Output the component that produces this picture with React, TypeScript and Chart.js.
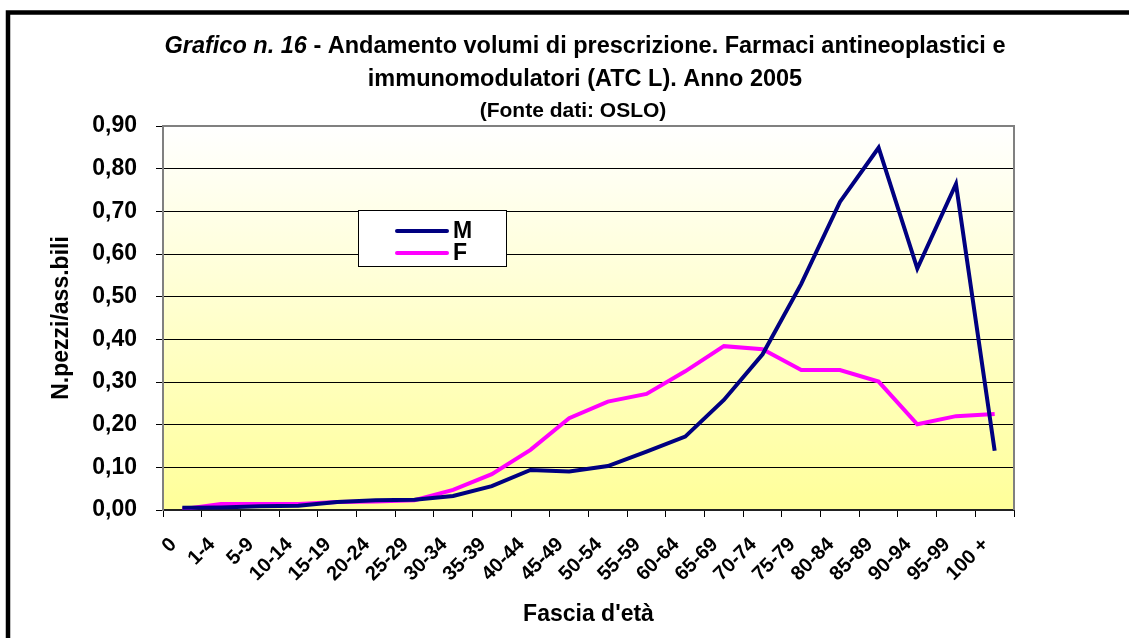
import React, { useEffect, useRef } from 'react';
import { Chart, registerables } from 'chart.js';

Chart.register(...registerables);

const categories = ['0', '1-4', '5-9', '10-14', '15-19', '20-24', '25-29', '30-34', '35-39', '40-44', '45-49', '50-54', '55-59', '60-64', '65-69', '70-74', '75-79', '80-84', '85-89', '90-94', '95-99', '100 +'];
const maleValues = [0.005, 0.006, 0.009, 0.010, 0.019, 0.023, 0.024, 0.033, 0.056, 0.094, 0.090, 0.103, 0.137, 0.172, 0.258, 0.365, 0.530, 0.722, 0.849, 0.566, 0.764, 0.139];
const femaleValues = [0.002, 0.014, 0.014, 0.014, 0.019, 0.020, 0.023, 0.047, 0.084, 0.141, 0.215, 0.254, 0.272, 0.325, 0.384, 0.377, 0.328, 0.328, 0.301, 0.201, 0.220, 0.225];
const seriesLabels = ['M', 'F'];
const seriesColors = ['#000080', '#FF00FF'];
const titleItalic = 'Grafico n. 16';
const titleLine1Rest = ' - Andamento volumi di prescrizione. Farmaci antineoplastici e';
const titleLine2 = 'immunomodulatori (ATC L). Anno 2005';
const titleLine3 = '(Fonte dati: OSLO)';
const xAxisTitle = "Fascia d'età";
const yAxisTitle = 'N.pezzi/ass.bili';
const yMin = 0;
const yMax = 0.9;
const yStep = 0.1;

const FONT = '"Liberation Sans", Arial, sans-serif';

const decorPlugin = {
  id: 'decor',
  beforeDraw(chart: any) {
    const { ctx, chartArea: a } = chart;
    ctx.save();
    ctx.fillStyle = '#ffffff';
    ctx.fillRect(0, 0, chart.width, chart.height);
    // outer frame
    ctx.strokeStyle = '#000000';
    ctx.lineWidth = 4.5;
    ctx.strokeRect(8, 12.5, chart.width + 20, chart.height + 20);
    // plot gradient
    const g = ctx.createLinearGradient(0, a.top, 0, a.bottom);
    g.addColorStop(0, '#FFFFFF');
    g.addColorStop(1, '#FFFF99');
    ctx.fillStyle = g;
    ctx.fillRect(a.left, a.top, a.right - a.left, a.bottom - a.top);
    ctx.restore();
  },
  beforeDatasetsDraw(chart: any) {
    const { ctx, chartArea: a } = chart;
    ctx.save();
    ctx.strokeStyle = '#808080';
    ctx.lineWidth = 2;
    ctx.beginPath();
    ctx.moveTo(a.left, a.top);
    ctx.lineTo(a.right, a.top);
    ctx.lineTo(a.right, a.bottom);
    ctx.stroke();
    ctx.restore();
  },
  afterDraw(chart: any) {
    const { ctx } = chart;
    ctx.save();
    ctx.fillStyle = '#000000';
    ctx.textBaseline = 'middle';
    const cx = 585;
    const tSize = 23.5;
    // title line 1 (mixed italic)
    ctx.font = `italic bold ${tSize}px ${FONT}`;
    const w1 = ctx.measureText(titleItalic).width;
    ctx.font = `bold ${tSize}px ${FONT}`;
    const w2 = ctx.measureText(titleLine1Rest).width;
    const x = cx - (w1 + w2) / 2;
    ctx.textAlign = 'left';
    ctx.font = `italic bold ${tSize}px ${FONT}`;
    ctx.fillText(titleItalic, x, 47);
    ctx.font = `bold ${tSize}px ${FONT}`;
    ctx.fillText(titleLine1Rest, x + w1, 47);
    ctx.textAlign = 'center';
    ctx.fillText(titleLine2, cx, 80);
    ctx.font = `bold 21px ${FONT}`;
    ctx.fillText(titleLine3, 573, 111);

    // legend
    const lx = 358, ly = 210, lw = 148, lh = 56;
    ctx.fillStyle = '#ffffff';
    ctx.fillRect(lx, ly, lw, lh);
    ctx.strokeStyle = '#000000';
    ctx.lineWidth = 1;
    ctx.strokeRect(lx + 0.5, ly + 0.5, lw, lh);
    chart.data.datasets.forEach((ds: any, i: number) => {
      const yy = ly + 21 + i * 22;
      ctx.strokeStyle = ds.borderColor;
      ctx.lineWidth = 4;
      ctx.lineCap = 'round';
      ctx.beginPath();
      ctx.moveTo(397, yy);
      ctx.lineTo(447, yy);
      ctx.stroke();
      ctx.fillStyle = '#000000';
      ctx.font = `bold 23px ${FONT}`;
      ctx.textAlign = 'left';
      ctx.fillText(ds.label, 453, yy + 1);
    });
    ctx.restore();
  },
};

export default function App() {
  const ref = useRef<HTMLCanvasElement>(null);
  useEffect(() => {
    const canvas = ref.current!;
    const chart = new Chart(canvas, {
      type: 'line',
      data: {
        labels: categories,
        datasets: [
          { label: seriesLabels[0], data: maleValues, borderColor: seriesColors[0], backgroundColor: seriesColors[0], borderWidth: 4, pointRadius: 0, tension: 0, fill: false },
          { label: seriesLabels[1], data: femaleValues, borderColor: seriesColors[1], backgroundColor: seriesColors[1], borderWidth: 4, pointRadius: 0, tension: 0, fill: false },
        ],
      },
      options: {
        animation: false,
        responsive: false,
        devicePixelRatio: 1,
        layout: { padding: { left: 0, top: 126, right: 115, bottom: 0 } },
        plugins: {
          legend: { display: false },
          title: { display: false },
          tooltip: { enabled: false },
        },
        scales: {
          x: {
            type: 'category',
            offset: true,
            grid: { display: true, drawOnChartArea: false, drawTicks: true, tickLength: 7, color: '#000000', offset: true },
            border: { display: true, color: '#222222', width: 2 },
            ticks: {
              autoSkip: false,
              maxRotation: 45,
              minRotation: 45,
              padding: 16,
              labelOffset: -9,
              color: '#000000',
              font: { family: FONT, size: 20, weight: 'bold' },
            },
            title: {
              display: true,
              text: xAxisTitle,
              color: '#000000',
              font: { family: FONT, size: 23, weight: 'bold' },
              padding: { top: 0, bottom: 10 },
            },
            afterFit(scale: any) { scale.height = 128; },
          },
          y: {
            min: yMin,
            max: yMax,
            grid: { color: '#000000', lineWidth: 1, tickLength: 7, drawTicks: true },
            border: { display: true, color: '#808080', width: 2 },
            ticks: {
              stepSize: yStep,
              padding: 19,
              color: '#000000',
              font: { family: FONT, size: 23, weight: 'bold' },
              callback: (v: any) => Number(v).toFixed(2).replace('.', ','),
            },
            title: {
              display: true,
              text: yAxisTitle,
              color: '#000000',
              font: { family: FONT, size: 23, weight: 'bold' },
              padding: { top: 48, bottom: 0 },
            },
            afterFit(scale: any) { scale.width = 163; },
          },
        },
      },
      plugins: [decorPlugin],
    } as any);
    return () => chart.destroy();
  }, []);
  return (
    <div style={{ position: 'absolute', left: 0, top: 0, width: 1129, height: 638, background: '#fff' }}>
      <canvas ref={ref} width={1129} height={638} style={{ display: 'block', width: 1129, height: 638 }} />
    </div>
  );
}
